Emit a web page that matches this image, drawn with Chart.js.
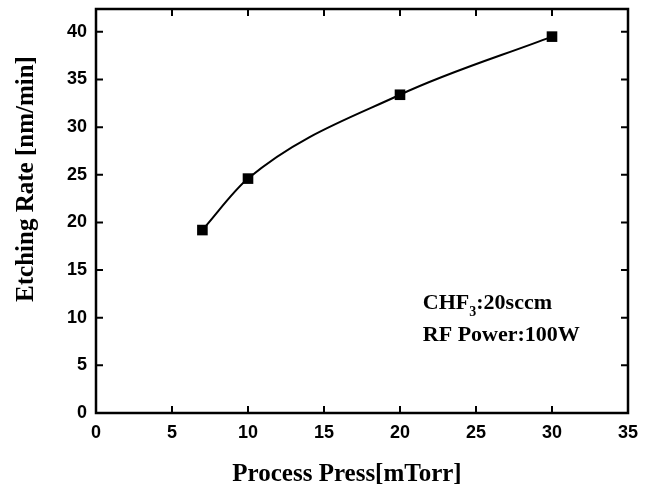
<!DOCTYPE html>
<html lang="en">
<head>
<meta charset="UTF-8">
<title>Etching rate vs process pressure</title>
<script src="https://cdn.jsdelivr.net/npm/chart.js@4.4.1/dist/chart.umd.min.js"></script>
<style>
    body { margin: 0; background: #fff; }
    #wrap { width: 653px; height: 488px; }
</style>
</head>
<body>
<div id="wrap"><canvas id="myChart" width="653" height="488"></canvas></div>

<script>
    // values
    const pressure = [7, 10, 20, 30];            // mTorr
    const etchRate = [19.2, 24.6, 33.4, 39.5];   // nm/min
    const xTicks = [0, 5, 10, 15, 20, 25, 30, 35];
    const yTicks = [0, 5, 10, 15, 20, 25, 30, 35, 40];
    const xTitle = 'Process Press[mTorr]';
    const yTitle = 'Etching Rate [nm/min]';
    const noteGas = ['CHF', '3', ':20sccm'];
    const notePower = 'RF Power:100W';

    const tickFont = {family: '"Liberation Sans", Arial, sans-serif', size: 18, weight: 'bold'};
    const serifBold = '"Liberation Serif", "Times New Roman", serif';

    // frame, inward ticks on all four sides, titles and the note
    const frameAndText = {
        id: 'frameAndText',
        afterDraw(chart) {
            const ctx = chart.ctx;
            const a = chart.chartArea;
            const x = chart.scales.x, y = chart.scales.y;
            ctx.save();
            ctx.strokeStyle = '#000';
            ctx.lineWidth = 2.5;
            ctx.strokeRect(a.left, a.top, a.right - a.left, a.bottom - a.top);

            ctx.lineWidth = 2;
            ctx.beginPath();
            x.ticks.forEach(t => {
                const px = x.getPixelForValue(t.value);
                ctx.moveTo(px, a.bottom); ctx.lineTo(px, a.bottom - 7);
                ctx.moveTo(px, a.top); ctx.lineTo(px, a.top + 7);
            });
            y.ticks.forEach(t => {
                const py = y.getPixelForValue(t.value);
                ctx.moveTo(a.left, py); ctx.lineTo(a.left + 7, py);
                ctx.moveTo(a.right, py); ctx.lineTo(a.right - 7, py);
            });
            ctx.stroke();

            // axis titles
            ctx.fillStyle = '#000';
            ctx.font = 'bold 25px ' + serifBold;
            ctx.textAlign = 'center';
            ctx.textBaseline = 'alphabetic';
            ctx.fillText(xTitle, 347, 481);
            ctx.save();
            ctx.translate(33, 179);
            ctx.rotate(-Math.PI / 2);
            ctx.fillText(yTitle, 0, 0);
            ctx.restore();

            // note inside the plot
            ctx.textAlign = 'left';
            let nx = x.getPixelForValue(21.5);
            const ny = y.getPixelForValue(10.9);
            ctx.font = 'bold 22px ' + serifBold;
            ctx.fillText(noteGas[0], nx, ny);
            nx += ctx.measureText(noteGas[0]).width;
            ctx.font = 'bold 14px ' + serifBold;
            ctx.fillText(noteGas[1], nx, ny + 7);
            nx += ctx.measureText(noteGas[1]).width;
            ctx.font = 'bold 22px ' + serifBold;
            ctx.fillText(noteGas[2], nx, ny);
            ctx.fillText(notePower, x.getPixelForValue(21.5), y.getPixelForValue(7.6));
            ctx.restore();
        }
    };

    const ctx = document.getElementById('myChart');

    const myChart = new Chart(ctx, {
        type: 'line',
        data: {
            datasets: [{
                data: pressure.map((p, i) => ({x: p, y: etchRate[i]})),
                borderColor: '#000',
                backgroundColor: '#000',
                borderWidth: 2,
                cubicInterpolationMode: 'monotone',
                pointStyle: 'rect',
                pointRadius: 7.5,
                pointBorderWidth: 0,
                fill: false
            }]
        },
        plugins: [frameAndText],
        options: {
            responsive: false,
            animation: false,
            layout: {padding: {top: 9, right: 25, left: 0, bottom: 0}},
            plugins: {
                legend: {display: false},
                tooltip: {enabled: false}
            },
            scales: {
                x: {
                    type: 'linear',
                    min: 0,
                    max: 35,
                    afterBuildTicks: s => { s.ticks = xTicks.map(v => ({value: v})); },
                    afterFit: s => { s.height = 75; s.paddingLeft = 0; s.paddingRight = 0; },
                    grid: {display: false, drawTicks: false},
                    border: {display: false},
                    ticks: {color: '#000', font: tickFont, padding: 9, maxRotation: 0}
                },
                y: {
                    type: 'linear',
                    min: 0,
                    max: 42.4,
                    afterBuildTicks: s => { s.ticks = yTicks.map(v => ({value: v})); },
                    afterFit: s => { s.width = 96; s.paddingTop = 0; s.paddingBottom = 0; },
                    grid: {display: false, drawTicks: false},
                    border: {display: false},
                    ticks: {color: '#000', font: tickFont, padding: 9}
                }
            }
        }
    });
</script>
</body>
</html>
